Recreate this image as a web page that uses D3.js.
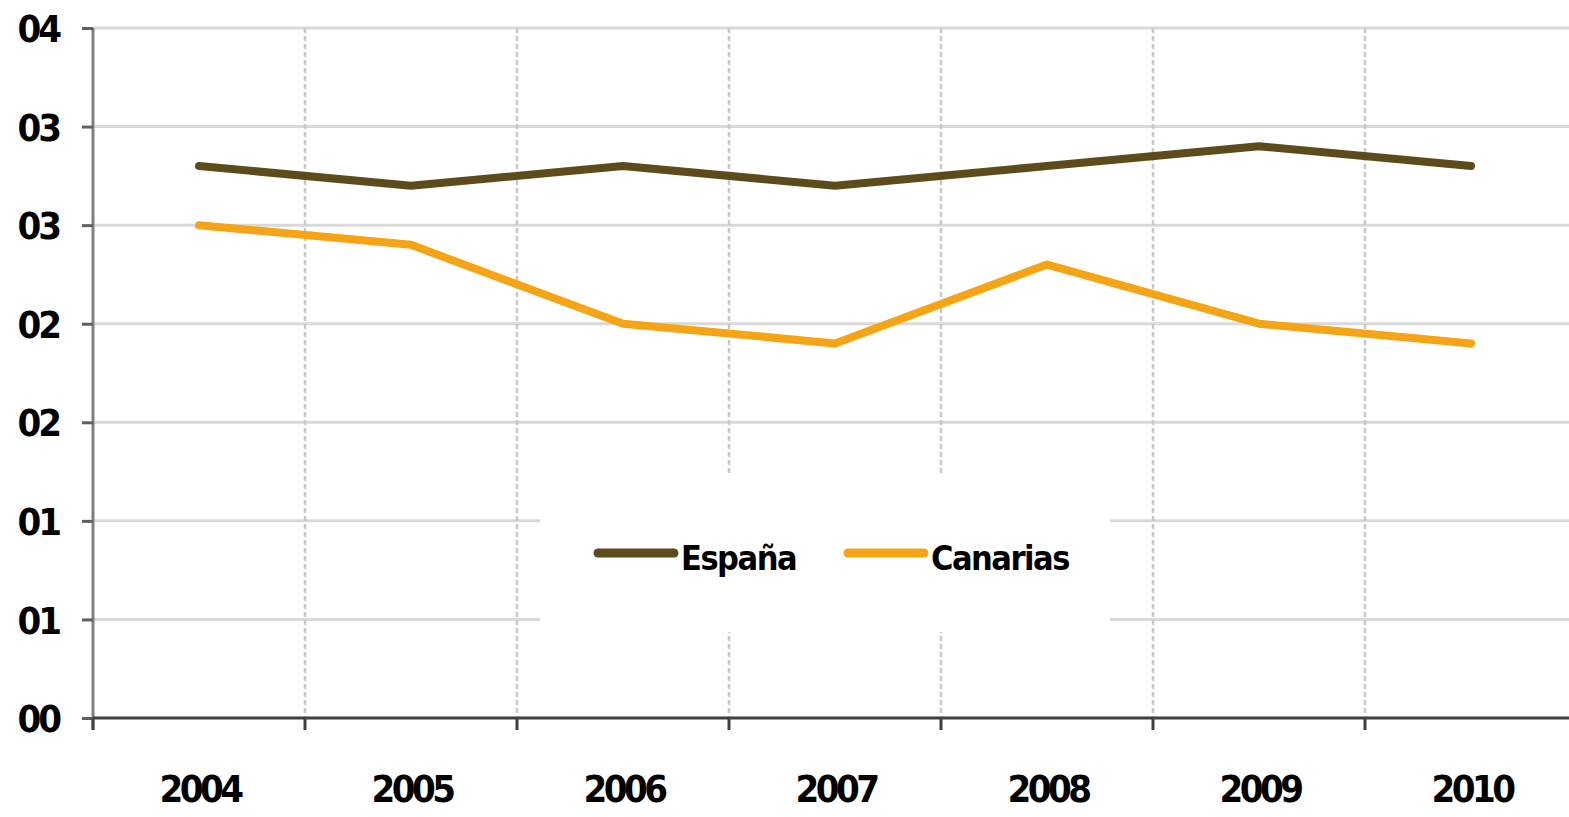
<!DOCTYPE html>
<html>
<head>
<meta charset="utf-8">
<script src="https://cdn.jsdelivr.net/npm/d3@7"></script>
<style>
    body { margin: 0; background: #fff; }
    svg text { font-family: "Liberation Sans Narrow", "DejaVu Sans Condensed", sans-serif; font-weight: bold; fill: #000; }
</style>
</head>
<body>
<script>
"use strict";

var years = ["2004", "2005", "2006", "2007", "2008", "2009", "2010"];
var espana = [2.8, 2.7, 2.8, 2.7, 2.8, 2.9, 2.8];
var canarias = [2.5, 2.4, 2.0, 1.9, 2.3, 2.0, 1.9];
var yTicks = [0, 0.5, 1, 1.5, 2, 2.5, 3, 3.5];
var yTickLabels = ["00", "01", "01", "02", "02", "03", "03", "04"];
var seriesNames = ["España", "Canarias"];

(function() {
    var width = 1569,
        height = 817;

    var plotLeft = 93, plotRight = 1577, plotTop = 28, plotBottom = 718;

    var svg = d3.select("body").append("svg")
        .attr("width", width)
        .attr("height", height);

    var xScale = d3.scaleBand()
        .domain(years)
        .range([plotLeft, plotRight]);

    var yScale = d3.scaleLinear()
        .domain([0, 3.5])
        .range([plotBottom, plotTop]);

    var colors = ["#5e4b1b", "#f5a415"];

    // horizontal grid
    svg.append("g")
        .selectAll("line")
        .data(yTicks.slice(1))
        .enter().append("line")
            .attr("x1", plotLeft)
            .attr("x2", width)
            .attr("y1", function(d) { return yScale(d); })
            .attr("y2", function(d) { return yScale(d); })
            .style("stroke", "#d9d9d9")
            .style("stroke-width", 3);

    // vertical dashed grid at category boundaries
    svg.append("g")
        .selectAll("line")
        .data(years.slice(1))
        .enter().append("line")
            .attr("x1", function(d) { return xScale(d); })
            .attr("x2", function(d) { return xScale(d); })
            .attr("y1", plotTop)
            .attr("y2", plotBottom)
            .style("stroke", "#c8c8c8")
            .style("stroke-width", 2.5)
            .style("stroke-dasharray", "5,3");

    // y axis
    var yAxis = d3.axisLeft(yScale)
        .tickValues(yTicks)
        .tickSize(11)
        .tickFormat(function(d, i) { return yTickLabels[i]; });

    var gy = svg.append("g")
        .attr("transform", "translate(" + plotLeft + ",0)")
        .call(yAxis);
    gy.select(".domain")
        .attr("d", "M0," + (plotBottom + 12) + "V" + plotTop)
        .style("stroke", "#808080")
        .style("stroke-width", 3);
    gy.selectAll(".tick line").style("stroke", "#606060").style("stroke-width", 3);
    gy.selectAll(".tick text")
        .attr("x", -34)
        .attr("dy", "0.36em")
        .style("font-size", "38px")
        .style("letter-spacing", "-3px")
        .style("font-family", "'Liberation Sans Narrow', 'DejaVu Sans Condensed', sans-serif")
        .style("font-weight", "bold")
        .style("fill", "#000");

    // x axis line and boundary ticks
    svg.append("line")
        .attr("x1", plotLeft)
        .attr("x2", width)
        .attr("y1", plotBottom)
        .attr("y2", plotBottom)
        .style("stroke", "#404040")
        .style("stroke-width", 3);

    svg.append("g")
        .selectAll("line")
        .data(years)
        .enter().append("line")
            .attr("x1", function(d) { return xScale(d); })
            .attr("x2", function(d) { return xScale(d); })
            .attr("y1", plotBottom)
            .attr("y2", plotBottom + 12)
            .style("stroke", "#404040")
            .style("stroke-width", 3);

    svg.append("g")
        .selectAll("text")
        .data(years)
        .enter().append("text")
            .attr("x", function(d) { return xScale(d) + xScale.bandwidth() / 2 + 1; })
            .attr("y", 802)
            .attr("text-anchor", "middle")
            .style("font-size", "38px")
            .style("letter-spacing", "-3.5px")
            .text(function(d) { return d; });

    // legend box (white, hides grid)
    svg.append("rect")
        .attr("x", 540)
        .attr("y", 476)
        .attr("width", 570)
        .attr("height", 156)
        .style("fill", "#fff");

    // series lines
    var line = d3.line()
        .x(function(d, i) { return xScale(years[i]) + xScale.bandwidth() / 2; })
        .y(function(d) { return yScale(d); });

    [espana, canarias].forEach(function(s, i) {
        svg.append("path")
            .datum(s)
            .attr("d", line)
            .style("fill", "none")
            .style("stroke", colors[i])
            .style("stroke-width", 8)
            .style("stroke-linejoin", "round")
            .style("stroke-linecap", "round");
    });

    // legend
    var legendX = [598, 848];
    var legend = svg.append("g");
    seriesNames.forEach(function(name, i) {
        legend.append("line")
            .attr("x1", legendX[i])
            .attr("x2", legendX[i] + 76)
            .attr("y1", 553)
            .attr("y2", 553)
            .style("stroke", colors[i])
            .style("stroke-width", 9)
            .style("stroke-linecap", "round");
        legend.append("text")
            .attr("x", legendX[i] + 83)
            .attr("y", 570)
            .style("font-size", "34px")
            .style("letter-spacing", "-1.5px")
            .text(name);
    });
})();
</script>
</body>
</html>
